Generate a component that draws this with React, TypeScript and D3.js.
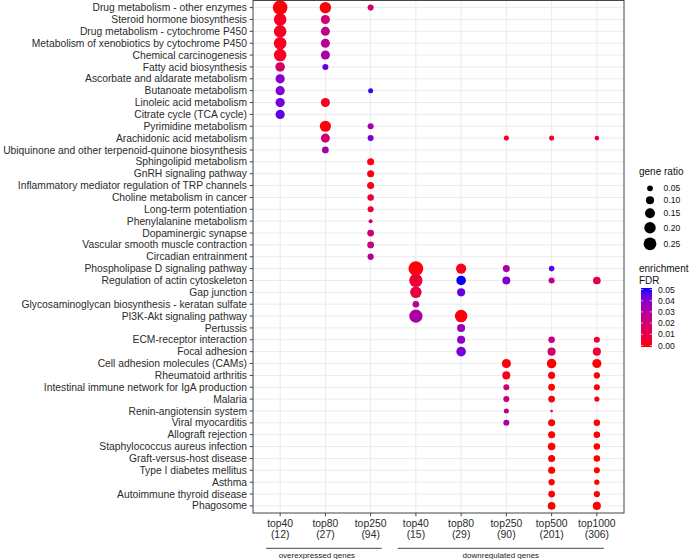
import React from 'react';
import * as d3 from 'd3';

type Hit = [string, number, number]; // pathway, gene ratio, FDR

const pathways = [
  'Drug metabolism - other enzymes',
  'Steroid hormone biosynthesis',
  'Drug metabolism - cytochrome P450',
  'Metabolism of xenobiotics by cytochrome P450',
  'Chemical carcinogenesis',
  'Fatty acid biosynthesis',
  'Ascorbate and aldarate metabolism',
  'Butanoate metabolism',
  'Linoleic acid metabolism',
  'Citrate cycle (TCA cycle)',
  'Pyrimidine metabolism',
  'Arachidonic acid metabolism',
  'Ubiquinone and other terpenoid-quinone biosynthesis',
  'Sphingolipid metabolism',
  'GnRH signaling pathway',
  'Inflammatory mediator regulation of TRP channels',
  'Choline metabolism in cancer',
  'Long-term potentiation',
  'Phenylalanine metabolism',
  'Dopaminergic synapse',
  'Vascular smooth muscle contraction',
  'Circadian entrainment',
  'Phospholipase D signaling pathway',
  'Regulation of actin cytoskeleton',
  'Gap junction',
  'Glycosaminoglycan biosynthesis - keratan sulfate',
  'PI3K-Akt signaling pathway',
  'Pertussis',
  'ECM-receptor interaction',
  'Focal adhesion',
  'Cell adhesion molecules (CAMs)',
  'Rheumatoid arthritis',
  'Intestinal immune network for IgA production',
  'Malaria',
  'Renin-angiotensin system',
  'Viral myocarditis',
  'Allograft rejection',
  'Staphylococcus aureus infection',
  'Graft-versus-host disease',
  'Type I diabetes mellitus',
  'Asthma',
  'Autoimmune thyroid disease',
  'Phagosome',
];

const colTop = ['top40', 'top80', 'top250', 'top40', 'top80', 'top250', 'top500', 'top1000'];
const colCount = ['(12)', '(27)', '(94)', '(15)', '(29)', '(90)', '(201)', '(306)'];

const overTop40: Hit[] = [
  ['Drug metabolism - other enzymes', 0.33, 0.0005],
  ['Steroid hormone biosynthesis', 0.24, 0.004],
  ['Drug metabolism - cytochrome P450', 0.24, 0.004],
  ['Metabolism of xenobiotics by cytochrome P450', 0.24, 0.004],
  ['Chemical carcinogenesis', 0.24, 0.004],
  ['Fatty acid biosynthesis', 0.14, 0.018],
  ['Ascorbate and aldarate metabolism', 0.13, 0.04],
  ['Butanoate metabolism', 0.13, 0.041],
  ['Linoleic acid metabolism', 0.13, 0.043],
  ['Citrate cycle (TCA cycle)', 0.13, 0.045],
];

const overTop80: Hit[] = [
  ['Drug metabolism - other enzymes', 0.2, 0.001],
  ['Steroid hormone biosynthesis', 0.125, 0.02],
  ['Drug metabolism - cytochrome P450', 0.125, 0.025],
  ['Metabolism of xenobiotics by cytochrome P450', 0.125, 0.028],
  ['Chemical carcinogenesis', 0.125, 0.031],
  ['Fatty acid biosynthesis', 0.056, 0.045],
  ['Linoleic acid metabolism', 0.125, 0.003],
  ['Pyrimidine metabolism', 0.19, 0.001],
  ['Arachidonic acid metabolism', 0.125, 0.02],
  ['Ubiquinone and other terpenoid-quinone biosynthesis', 0.07, 0.033],
];

const overTop250: Hit[] = [
  ['Drug metabolism - other enzymes', 0.056, 0.018],
  ['Butanoate metabolism', 0.039, 0.048],
  ['Pyrimidine metabolism', 0.056, 0.033],
  ['Arachidonic acid metabolism', 0.056, 0.042],
  ['Sphingolipid metabolism', 0.076, 0.002],
  ['GnRH signaling pathway', 0.076, 0.002],
  ['Inflammatory mediator regulation of TRP channels', 0.076, 0.002],
  ['Choline metabolism in cancer', 0.065, 0.006],
  ['Long-term potentiation', 0.056, 0.006],
  ['Phenylalanine metabolism', 0.025, 0.02],
  ['Dopaminergic synapse', 0.07, 0.022],
  ['Vascular smooth muscle contraction', 0.07, 0.023],
  ['Circadian entrainment', 0.06, 0.03],
];

const downTop40: Hit[] = [
  ['Phospholipase D signaling pathway', 0.333, 0.0005],
  ['Regulation of actin cytoskeleton', 0.267, 0.008],
  ['Gap junction', 0.2, 0.01],
  ['Glycosaminoglycan biosynthesis - keratan sulfate', 0.067, 0.026],
  ['PI3K-Akt signaling pathway', 0.267, 0.032],
];

const downTop80: Hit[] = [
  ['Phospholipase D signaling pathway', 0.16, 0.003],
  ['Regulation of actin cytoskeleton', 0.14, 0.05],
  ['Gap junction', 0.1, 0.044],
  ['PI3K-Akt signaling pathway', 0.24, 0.001],
  ['Pertussis', 0.1, 0.036],
  ['ECM-receptor interaction', 0.1, 0.038],
  ['Focal adhesion', 0.14, 0.042],
];

const downTop250: Hit[] = [
  ['Arachidonic acid metabolism', 0.039, 0.004],
  ['Phospholipase D signaling pathway', 0.076, 0.032],
  ['Regulation of actin cytoskeleton', 0.099, 0.04],
  ['Cell adhesion molecules (CAMs)', 0.126, 0.001],
  ['Rheumatoid arthritis', 0.099, 0.003],
  ['Intestinal immune network for IgA production', 0.056, 0.02],
  ['Malaria', 0.056, 0.024],
  ['Renin-angiotensin system', 0.039, 0.028],
  ['Viral myocarditis', 0.056, 0.032],
];

const downTop500: Hit[] = [
  ['Arachidonic acid metabolism', 0.039, 0.004],
  ['Phospholipase D signaling pathway', 0.047, 0.045],
  ['Regulation of actin cytoskeleton', 0.056, 0.027],
  ['ECM-receptor interaction', 0.065, 0.024],
  ['Focal adhesion', 0.1, 0.02],
  ['Cell adhesion molecules (CAMs)', 0.14, 0.0002],
  ['Rheumatoid arthritis', 0.076, 0.0005],
  ['Intestinal immune network for IgA production', 0.07, 0.0005],
  ['Malaria', 0.07, 0.001],
  ['Renin-angiotensin system', 0.01, 0.025],
  ['Viral myocarditis', 0.076, 0.0005],
  ['Allograft rejection', 0.076, 0.0001],
  ['Staphylococcus aureus infection', 0.087, 0.0001],
  ['Graft-versus-host disease', 0.076, 0.0001],
  ['Type I diabetes mellitus', 0.076, 0.0001],
  ['Asthma', 0.06, 0.0002],
  ['Autoimmune thyroid disease', 0.07, 0.0002],
  ['Phagosome', 0.09, 0.0001],
];

const downTop1000: Hit[] = [
  ['Arachidonic acid metabolism', 0.032, 0.008],
  ['Regulation of actin cytoskeleton', 0.09, 0.012],
  ['ECM-receptor interaction', 0.056, 0.007],
  ['Focal adhesion', 0.1, 0.006],
  ['Cell adhesion molecules (CAMs)', 0.126, 0.0002],
  ['Rheumatoid arthritis', 0.06, 0.0005],
  ['Intestinal immune network for IgA production', 0.056, 0.0005],
  ['Malaria', 0.042, 0.001],
  ['Viral myocarditis', 0.065, 0.0005],
  ['Allograft rejection', 0.065, 0.0001],
  ['Staphylococcus aureus infection', 0.065, 0.0001],
  ['Graft-versus-host disease', 0.065, 0.0001],
  ['Type I diabetes mellitus', 0.056, 0.0001],
  ['Asthma', 0.042, 0.0002],
  ['Autoimmune thyroid disease', 0.06, 0.0002],
  ['Phagosome', 0.1, 0.0001],
];

const columns = [overTop40, overTop80, overTop250, downTop40, downTop80, downTop250, downTop500, downTop1000];
const sizeBreaks = [0.05, 0.1, 0.15, 0.2, 0.25];
const fdrBreaks = [0, 0.01, 0.02, 0.03, 0.04, 0.05];

const W = 689;
const H = 559;
const FONT = '"Liberation Sans", Arial, Helvetica, sans-serif';
const panel = { left: 253, right: 624, top: 0.5, bottom: 513 };

export default function App() {
  const colKeys = colTop.map((_, i) => String(i));
  const x = d3.scalePoint<string>().domain(colKeys).range([panel.left, panel.right]).padding(0.6);
  const y = d3.scalePoint<string>().domain(pathways).range([panel.top, panel.bottom]).padding(0.6);
  const r = d3.scaleSqrt().domain([0, 0.25]).range([0, 6.4]);
  const color = d3
    .scaleLinear<string>()
    .domain([0, 0.05])
    .range(['#ff0000', '#0000ff'])
    .interpolate(d3.interpolateLab)
    .clamp(true);

  // size legend: key heights grow with the circle
  let acc = 182.3;
  const sizeKeys = sizeBreaks.map((v) => {
    const h = Math.max(12, 2 * r(v) + 3.9);
    const cy = acc + h / 2;
    acc += h;
    return { v, cy };
  });

  const barTop = 288;
  const barBottom = 347;
  const fdrY = d3.scaleLinear().domain([0, 0.05]).range([345.5, 289.5]);
  const gradStops = d3.range(0, 1.0001, 0.1);

  const groups = [
    { label: 'overexpressed genes', x0: x('0')! - 14, x1: x('2')! + 11 },
    { label: 'downregulated genes', x0: x('3')! - 18, x1: x('7')! + 7 },
  ];

  return (
    <svg width={W} height={H} style={{ position: 'absolute', left: 0, top: 0, background: '#fff' }} fontFamily={FONT}>
      <defs>
        <linearGradient id="fdrGrad" x1="0" y1="1" x2="0" y2="0">
          {gradStops.map((t) => (
            <stop key={t} offset={t} stopColor={color(t * 0.05)} />
          ))}
        </linearGradient>
      </defs>
      <rect x={panel.left} y={panel.top} width={panel.right - panel.left} height={panel.bottom - panel.top} fill="#fff" />
      {/* grid */}
      {pathways.map((p) => (
        <line key={p} x1={panel.left} x2={panel.right} y1={y(p)} y2={y(p)} stroke="#ebebeb" strokeWidth={1} />
      ))}
      {colKeys.map((k) => (
        <line key={k} x1={x(k)} x2={x(k)} y1={panel.top} y2={panel.bottom} stroke="#ebebeb" strokeWidth={1} />
      ))}
      {/* dots */}
      {columns.map((col, ci) =>
        col.map(([p, ratio, fdr]) => (
          <circle key={ci + p} cx={x(String(ci))} cy={y(p)} r={r(ratio)} fill={color(fdr)} />
        ))
      )}
      <rect
        x={panel.left}
        y={panel.top}
        width={panel.right - panel.left}
        height={panel.bottom - panel.top}
        fill="none"
        stroke="#444"
        strokeWidth={1}
      />
      {/* y axis */}
      {pathways.map((p) => (
        <g key={p}>
          <line x1={panel.left - 3.3} x2={panel.left} y1={y(p)} y2={y(p)} stroke="#444" />
          <text x={panel.left - 6} y={y(p)} dy="0.35em" textAnchor="end" fontSize={10.3} fill="#2b2b2b">
            {p}
          </text>
        </g>
      ))}
      {/* x axis */}
      {colKeys.map((k, i) => (
        <g key={k}>
          <line x1={x(k)} x2={x(k)} y1={panel.bottom} y2={panel.bottom + 3.3} stroke="#444" />
          <text x={x(k)} y={526.5} textAnchor="middle" fontSize={10.4} fill="#2b2b2b">
            {colTop[i]}
          </text>
          <text x={x(k)} y={538.2} textAnchor="middle" fontSize={10.4} fill="#2b2b2b">
            {colCount[i]}
          </text>
        </g>
      ))}
      {groups.map((g) => (
        <g key={g.label}>
          <line x1={g.x0} x2={g.x1} y1={548.3} y2={548.3} stroke="#333" strokeWidth={0.9} />
          <text x={(g.x0 + g.x1) / 2 - (g.label.startsWith('over') ? 7 : 0)} y={557.5} textAnchor="middle" fontSize={8} fill="#222">
            {g.label}
          </text>
        </g>
      ))}
      {/* size legend */}
      <text x={639} y={175.3} fontSize={10} fill="#111">
        gene ratio
      </text>
      {sizeKeys.map((s) => (
        <g key={s.v}>
          <circle cx={650} cy={s.cy} r={r(s.v)} fill="#000" />
          <text x={663.5} y={s.cy} dy="0.35em" fontSize={8.6} fill="#111">
            {s.v.toFixed(2)}
          </text>
        </g>
      ))}
      {/* colour legend */}
      <text x={639} y={272} fontSize={10} fill="#111">
        enrichment
      </text>
      <text x={639} y={284} fontSize={10} fill="#111">
        FDR
      </text>
      <rect x={641} y={barTop} width={11} height={barBottom - barTop} fill="url(#fdrGrad)" />
      {fdrBreaks.map((v) => (
        <g key={v}>
          <line x1={641} x2={643.2} y1={fdrY(v)} y2={fdrY(v)} stroke="#fff" strokeWidth={0.6} />
          <line x1={649.8} x2={652} y1={fdrY(v)} y2={fdrY(v)} stroke="#fff" strokeWidth={0.6} />
          <text x={658} y={fdrY(v)} dy="0.35em" fontSize={8.6} fill="#111">
            {v.toFixed(2)}
          </text>
        </g>
      ))}
    </svg>
  );
}
